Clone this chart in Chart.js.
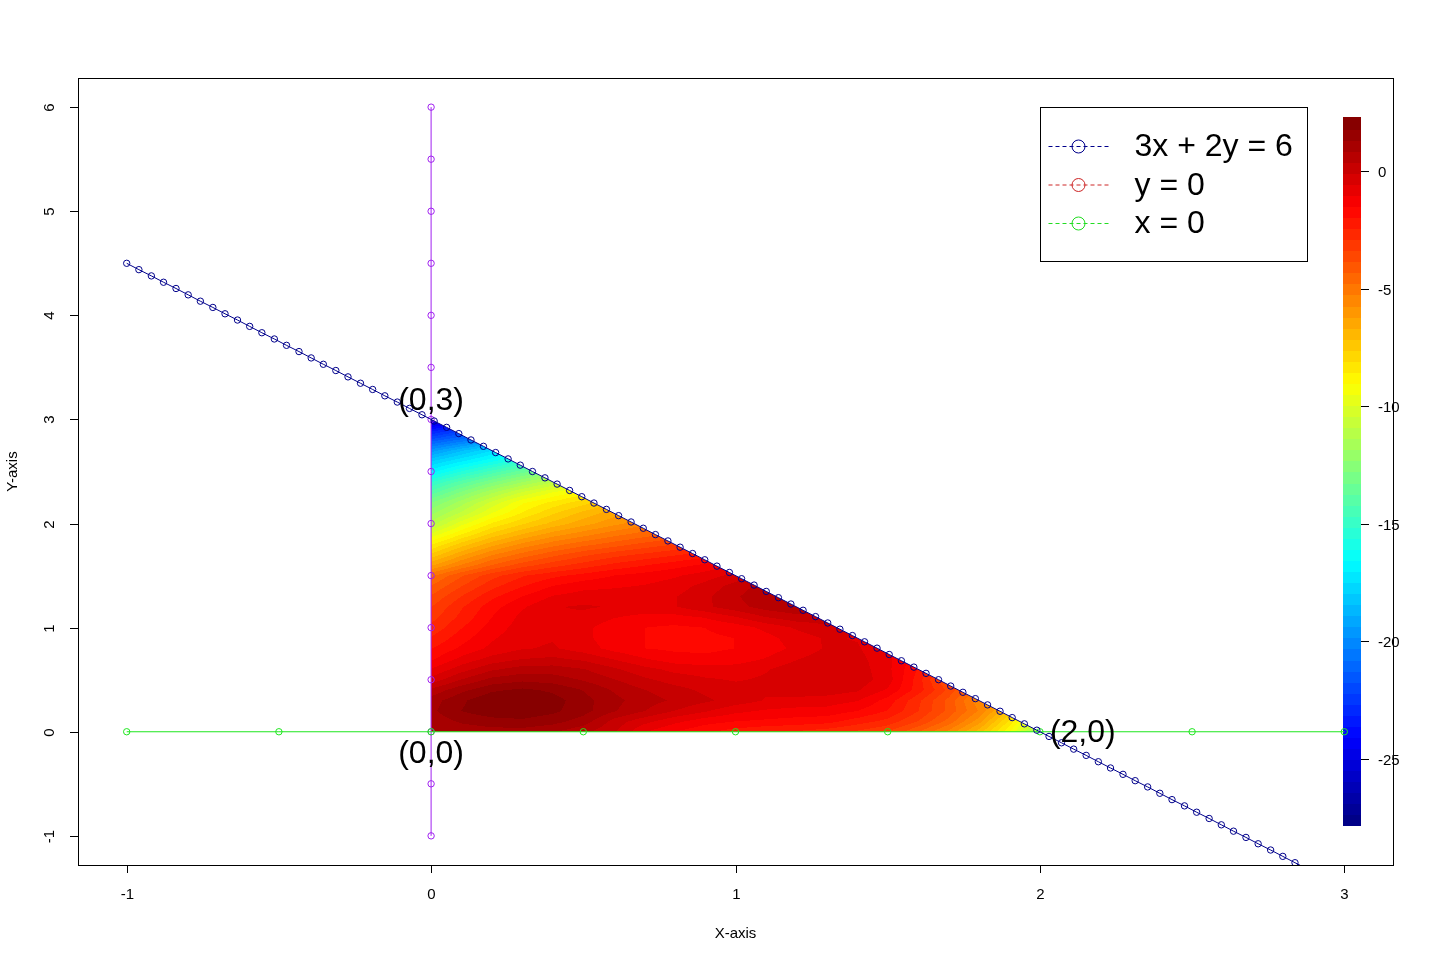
<!DOCTYPE html>
<html>
<head>
<meta charset="utf-8">
<script src="https://cdn.jsdelivr.net/npm/chart.js@4.4.1/dist/chart.umd.min.js"></script>
<style>
  html, body { margin: 0; padding: 0; background: #fff; }
  #wrap { width: 1434px; height: 964px; }
</style>
</head>
<body>
<div id="wrap"><canvas id="plot" width="1434" height="964"></canvas></div>
<script>
// ── DATA ─────────────────────────────────────────────────────
// 3x + 2y = 6, sampled points as plotted
const lineX = [-1.000,-0.960,-0.919,-0.879,-0.838,-0.798,-0.758,-0.717,-0.677,-0.636,
  -0.596,-0.556,-0.515,-0.475,-0.434,-0.394,-0.354,-0.313,-0.273,-0.232,
  -0.192,-0.152,-0.111,-0.071,-0.030,0.010,0.051,0.091,0.131,0.172,
  0.212,0.253,0.293,0.333,0.374,0.414,0.455,0.495,0.535,0.576,
  0.616,0.657,0.697,0.737,0.778,0.818,0.859,0.899,0.939,0.980,
  1.020,1.061,1.101,1.141,1.182,1.222,1.263,1.303,1.343,1.384,
  1.424,1.465,1.505,1.545,1.586,1.626,1.667,1.707,1.747,1.788,
  1.828,1.869,1.909,1.949,1.990,2.030,2.071,2.111,2.152,2.192,
  2.232,2.273,2.313,2.354,2.394,2.434,2.475,2.515,2.556,2.596,
  2.636,2.677,2.717,2.758,2.798,2.838,2.879,2.919,2.960,3.000];
const lineY = [4.500,4.439,4.379,4.318,4.258,4.197,4.136,4.076,4.015,3.955,
  3.894,3.833,3.773,3.712,3.652,3.591,3.530,3.470,3.409,3.348,
  3.288,3.227,3.167,3.106,3.045,2.985,2.924,2.864,2.803,2.742,
  2.682,2.621,2.561,2.500,2.439,2.379,2.318,2.258,2.197,2.136,
  2.076,2.015,1.955,1.894,1.833,1.773,1.712,1.652,1.591,1.530,
  1.470,1.409,1.348,1.288,1.227,1.167,1.106,1.045,0.985,0.924,
  0.864,0.803,0.742,0.682,0.621,0.561,0.500,0.439,0.379,0.318,
  0.258,0.197,0.136,0.076,0.015,-0.045,-0.106,-0.167,-0.227,-0.288,
  -0.348,-0.409,-0.470,-0.530,-0.591,-0.652,-0.712,-0.773,-0.833,-0.894,
  -0.955,-1.015,-1.076,-1.136,-1.197,-1.258,-1.318,-1.379,-1.439,-1.500];

// x = 0 (vertical) and y = 0 (horizontal)
const vertX = [0,0,0,0,0,0,0,0,0,0,0,0,0,0,0];
const vertY = [-1,-0.5,0,0.5,1,1.5,2,2.5,3,3.5,4,4.5,5,5.5,6];
const horzX = [-1,-0.5,0,0.5,1,1.5,2,2.5,3];
const horzY = [0,0,0,0,0,0,0,0,0];

// feasible region (triangle) and the value field
const triX = [0, 2, 0];
const triY = [0, 0, 3];
const zGridX = [0,0.1,0.2,0.3,0.4,0.5,0.6,0.7,0.8,0.9,1.0,1.1,1.2,1.3,1.4,1.5,1.6,1.7,1.8,1.9,2.0];
const zGridY = [0,0.1,0.2,0.3,0.4,0.5,0.6,0.7,0.8,0.9,1.0,1.1,1.2,1.3,1.4,1.5,1.6,1.7,1.8,1.9,2.0,
  2.1,2.2,2.3,2.4,2.5,2.6,2.7,2.8,2.9,3.0];
const zRows = [
  [0.8, 1.0, 1.1, 1.1, 0.9, 0.5, 0.0, -1.0, -1.5, -1.9, -2.2, -2.4, -2.5, -2.7, -3.0, -3.4, -4.3, -5.4, -6.9, -9.0, -11.8],
  [1.0, 1.4, 1.6, 1.7, 1.5, 1.1, 0.2, -0.4, -0.9, -1.3, -1.5, -1.6, -1.7, -1.8, -2.2, -2.6, -3.4, -4.5, -6.0, -8.2, -11.0],
  [1.2, 1.8, 2.1, 2.1, 1.9, 1.5, 0.9, 0.4, -0.1, -0.5, -0.9, -1.1, -1.2, -1.2, -1.5, -2.0, -2.9, -4.0, -5.3, -7.2, -10.0],
  [1.1, 1.7, 2.2, 2.2, 2.0, 1.5, 1.0, 0.6, 0.3, 0.0, -0.3, -0.6, -0.7, -0.8, -1.0, -1.7, -2.8, -4.0, -5.6, -7.0],
  [0.5, 1.2, 1.7, 1.9, 1.7, 1.3, 0.8, 0.4, 0.1, -0.2, -0.4, -0.5, -0.3, -0.3, -0.5, -1.1, -2.2, -3.5, -5.0, -6.5],
  [-0.4, 0.4, 1.0, 1.2, 1.1, 0.8, 0.4, 0.0, -0.3, -0.5, -0.6, -0.5, -0.3, -0.2, -0.3, -0.8, -2.2, -4.0, -5.2],
  [-1.0, -0.3, 0.3, 0.6, 0.6, 0.4, 0.0, -0.4, -0.7, -0.8, -0.8, -0.6, -0.3, -0.2, -0.3, -0.9, -2.0, -3.2],
  [-1.6, -0.9, -0.4, -0.1, 0.0, -0.2, -0.6, -1.0, -1.3, -1.4, -1.3, -1.0, -0.6, -0.3, -0.4, -0.9, -1.8, -2.9],
  [-2.0, -1.4, -0.9, -0.6, -0.5, -0.8, -1.2, -1.5, -1.6, -1.6, -1.5, -1.3, -0.9, -0.5, -0.5, -1.0, -1.9],
  [-2.4, -1.7, -1.1, -0.7, -0.6, -0.9, -1.3, -1.5, -1.6, -1.6, -1.5, -1.2, -0.8, -0.5, -0.6, -1.0],
  [-2.8, -2.0, -1.3, -0.8, -0.6, -0.9, -1.3, -1.5, -1.6, -1.5, -1.3, -0.9, -0.5, -0.2, -0.4, -0.9],
  [-3.1, -2.3, -1.5, -0.9, -0.6, -0.7, -1.0, -1.2, -1.2, -1.0, -0.6, -0.1, 0.2, 0.2, 0.0],
  [-3.4, -2.5, -1.7, -1.1, -0.6, -0.5, -0.6, -0.7, -0.6, -0.2, 0.2, 0.6, 0.8, 0.7],
  [-3.8, -2.9, -2.1, -1.5, -1.0, -0.8, -0.8, -0.8, -0.6, -0.2, 0.3, 0.8, 0.8, 0.6],
  [-4.3, -3.4, -2.6, -2.0, -1.5, -1.2, -1.1, -1.0, -0.8, -0.4, 0.1, 0.6, 0.7],
  [-4.9, -3.9, -3.1, -2.5, -2.1, -1.8, -1.5, -1.3, -1.1, -0.8, -0.4, 0.2],
  [-6.3, -5.2, -4.3, -3.6, -3.1, -2.7, -2.3, -2.0, -1.7, -1.4, -1.0, -0.5],
  [-7.5, -6.3, -5.3, -4.6, -4.0, -3.5, -3.1, -2.8, -2.5, -2.2, -1.8],
  [-8.6, -7.4, -6.4, -5.6, -5.0, -4.5, -4.1, -3.7, -3.4, -3.0],
  [-9.9, -8.6, -7.5, -6.7, -6.0, -5.5, -5.0, -4.6, -4.2, -3.8],
  [-11.2, -9.7, -8.5, -7.7, -7.0, -6.4, -5.9, -5.4, -5.0],
  [-12.0, -10.8, -9.5, -8.5, -7.7, -7.0, -6.4, -5.8],
  [-12.8, -11.6, -10.3, -9.1, -8.4, -7.8, -7.2, -6.6],
  [-14.0, -12.7, -11.5, -10.4, -9.5, -8.8, -8.1],
  [-15.2, -14.0, -12.9, -11.9, -11.0, -10.2],
  [-16.8, -15.6, -14.5, -13.5, -12.6, -11.8],
  [-18.0, -17.1, -16.2, -15.2, -14.3],
  [-19.6, -18.5, -17.5, -16.5],
  [-21.5, -20.6, -19.7, -18.8],
  [-23.5, -22.4, -21.3],
  [-25.8, -24.5]
];

// colour key
const cbRange = [-27.85, 2.26];
const cbTicks = [0, -5, -10, -15, -20, -25];
const nLevels = 64;

// axes
const xTicks = [-1, 0, 1, 2, 3];
const yTicks = [-1, 0, 1, 2, 3, 4, 5, 6];

// corner labels and legend
const cornerLabels = ['(0,3)', '(0,0)', '(2,0)'];
const cornerX = [0, 0, 2];
const cornerY = [3, 0, 0];
const cornerPos = ['above', 'below', 'right'];
const legendLabels = ['3x + 2y = 6', 'y = 0', 'x = 0'];
const legendColors = ['#00008B', '#CD2626', '#22DD22'];

// ── HELPERS ──────────────────────────────────────────────────
const FONT = '"Liberation Sans", Arial, sans-serif';
const JET = ['#00007F', '#0000FF', '#007FFF', '#00FFFF', '#7FFF7F', '#FFFF00', '#FF7F00', '#FF0000', '#7F0000']
  .map(h => [parseInt(h.slice(1, 3), 16), parseInt(h.slice(3, 5), 16), parseInt(h.slice(5, 7), 16)]);

function jet(t) {
  t = Math.max(0, Math.min(1, t)) * (JET.length - 1);
  const k = Math.min(JET.length - 2, Math.floor(t));
  const f = t - k;
  return JET[k].map((c, i) => Math.round(c + (JET[k + 1][i] - c) * f));
}

// colour of the level a value falls in
function levelColor(v) {
  const [lo, hi] = cbRange;
  let k = Math.floor((v - lo) / (hi - lo) * nLevels);
  k = Math.max(0, Math.min(nLevels - 1, k));
  return jet((k + 0.5) / nLevels);
}

function zAt(x, y) {
  const dx = zGridX[1] - zGridX[0], dy = zGridY[1] - zGridY[0];
  let i = Math.floor((x - zGridX[0]) / dx), j = Math.floor((y - zGridY[0]) / dy);
  i = Math.max(0, Math.min(zGridX.length - 2, i));
  j = Math.max(0, Math.min(zGridY.length - 2, j));
  const tx = Math.max(0, Math.min(1, (x - zGridX[i]) / dx));
  const ty = Math.max(0, Math.min(1, (y - zGridY[j]) / dy));
  const c = [[i, j, (1 - tx) * (1 - ty)], [i + 1, j, tx * (1 - ty)], [i, j + 1, (1 - tx) * ty], [i + 1, j + 1, tx * ty]];
  let s = 0, w = 0, s2 = 0, n = 0;
  for (const [a, b, wt] of c) {
    const v = zRows[b] ? zRows[b][a] : undefined;
    if (v === undefined || v === null) continue;
    s += v * wt; w += wt; s2 += v; n++;
  }
  if (w > 1e-6) return s / w;
  return n ? s2 / n : null;
}

const pts = (xs, ys) => xs.map((x, i) => ({ x, y: ys[i] }));

// ── PLUGINS ──────────────────────────────────────────────────
const fieldPlugin = {
  id: 'field',
  beforeDatasetsDraw(chart) {
    const { ctx, scales: { x, y, cb } } = chart;
    const px = triX.map(v => x.getPixelForValue(v));
    const py = triY.map(v => y.getPixelForValue(v));
    const x0 = Math.floor(Math.min(...px)), x1 = Math.ceil(Math.max(...px));
    const y0 = Math.floor(Math.min(...py)), y1 = Math.ceil(Math.max(...py));
    const w = x1 - x0 + 1, h = y1 - y0 + 1;

    const off = document.createElement('canvas');
    off.width = w; off.height = h;
    const octx = off.getContext('2d');
    const img = octx.createImageData(w, h);
    for (let r = 0; r < h; r++) {
      const yv = y.getValueForPixel(y0 + r + 0.5);
      for (let c = 0; c < w; c++) {
        const xv = x.getValueForPixel(x0 + c + 0.5);
        const z = zAt(xv, yv);
        if (z === null) continue;
        const col = levelColor(z);
        const o = (r * w + c) * 4;
        img.data[o] = col[0]; img.data[o + 1] = col[1]; img.data[o + 2] = col[2]; img.data[o + 3] = 255;
      }
    }
    octx.putImageData(img, 0, 0);

    ctx.save();
    ctx.beginPath();
    px.forEach((p, i) => (i ? ctx.lineTo(p, py[i]) : ctx.moveTo(p, py[i])));
    ctx.closePath();
    ctx.clip();
    ctx.drawImage(off, x0, y0);
    ctx.restore();

    // colour key
    const bl = Math.round(x.getPixelForValue(3.0)) - 1;
    const bw = 18;
    const [lo, hi] = cbRange;
    const step = (hi - lo) / nLevels;
    for (let k = 0; k < nLevels; k++) {
      const a = cb.getPixelForValue(lo + k * step);
      const b = cb.getPixelForValue(lo + (k + 1) * step);
      const col = jet((k + 0.5) / nLevels);
      ctx.fillStyle = `rgb(${col[0]},${col[1]},${col[2]})`;
      ctx.fillRect(bl, Math.floor(b), bw, Math.ceil(a) - Math.floor(b));
    }
    ctx.strokeStyle = '#000';
    ctx.lineWidth = 1;
    ctx.fillStyle = '#000';
    ctx.font = `15px ${FONT}`;
    ctx.textAlign = 'left';
    ctx.textBaseline = 'middle';
    cbTicks.forEach(v => {
      const p = Math.round(cb.getPixelForValue(v)) + 0.5;
      ctx.beginPath();
      ctx.moveTo(bl + bw, p); ctx.lineTo(bl + bw + 8, p);
      ctx.stroke();
      ctx.fillText(String(v), bl + bw + 17, p + 1);
    });
  },
  afterDraw(chart) {
    const { ctx, chartArea: a, scales: { x, y } } = chart;
    ctx.save();
    ctx.strokeStyle = '#000';
    ctx.fillStyle = '#000';
    ctx.lineWidth = 1;
    ctx.strokeRect(Math.round(a.left) + 0.5, Math.round(a.top) + 0.5, Math.round(a.width), Math.round(a.height));

    // x axis
    ctx.font = `15px ${FONT}`;
    ctx.textAlign = 'center';
    ctx.textBaseline = 'middle';
    xTicks.forEach(v => {
      const p = Math.round(x.getPixelForValue(v)) + 0.5;
      ctx.beginPath();
      ctx.moveTo(p, a.bottom); ctx.lineTo(p, a.bottom + 8);
      ctx.stroke();
      ctx.fillText(String(v), p, a.bottom + 30);
    });
    // y axis, labels turned as in the original
    yTicks.forEach(v => {
      const p = Math.round(y.getPixelForValue(v)) + 0.5;
      ctx.beginPath();
      ctx.moveTo(a.left, p); ctx.lineTo(a.left - 8, p);
      ctx.stroke();
      ctx.save();
      ctx.translate(a.left - 28, p);
      ctx.rotate(-Math.PI / 2);
      ctx.fillText(String(v), 0, 0);
      ctx.restore();
    });
    ctx.font = `15px ${FONT}`;
    ctx.fillText('X-axis', (a.left + a.right) / 2, a.bottom + 69);
    ctx.save();
    ctx.translate(13, (a.top + a.bottom) / 2);
    ctx.rotate(-Math.PI / 2);
    ctx.fillText('Y-axis', 0, 0);
    ctx.restore();

    // corner labels
    ctx.font = `32px ${FONT}`;
    cornerLabels.forEach((t, i) => {
      const px = x.getPixelForValue(cornerX[i]);
      const py = y.getPixelForValue(cornerY[i]);
      if (cornerPos[i] === 'above') { ctx.textAlign = 'center'; ctx.fillText(t, px, py - 18); }
      else if (cornerPos[i] === 'below') { ctx.textAlign = 'center'; ctx.fillText(t, px, py + 22); }
      else { ctx.textAlign = 'left'; ctx.fillText(t, px + 10, py + 1); }
    });

    // legend
    const lx = 1040.5, ly = 107.5, lw = 267, lh = 154;
    ctx.fillStyle = '#fff';
    ctx.fillRect(lx, ly, lw, lh);
    ctx.strokeStyle = '#000';
    ctx.strokeRect(lx, ly, lw, lh);
    ctx.textAlign = 'left';
    legendLabels.forEach((t, i) => {
      const ry = 146.5 + i * 38.5;
      ctx.strokeStyle = legendColors[i];
      ctx.setLineDash([4, 3]);
      ctx.beginPath();
      ctx.moveTo(lx + 8, ry); ctx.lineTo(lx + 68, ry);
      ctx.stroke();
      ctx.setLineDash([]);
      ctx.beginPath();
      ctx.arc(lx + 38, ry, 6.5, 0, Math.PI * 2);
      ctx.stroke();
      ctx.fillStyle = '#000';
      ctx.fillText(t, lx + 94, ry + 1);
    });
    ctx.restore();
  }
};

// ── CHART ────────────────────────────────────────────────────
const dotLine = (data, color) => ({
  data, showLine: true,
  borderColor: color, borderWidth: 1,
  pointRadius: 3.2, pointBorderWidth: 1, pointBorderColor: color,
  pointBackgroundColor: 'rgba(0,0,0,0)', pointHoverRadius: 3.2
});

new Chart(document.getElementById('plot'), {
  type: 'scatter',
  data: {
    datasets: [
      dotLine(pts(lineX, lineY), '#00008B'),
      dotLine(pts(horzX, horzY), '#1EE61E'),
      dotLine(pts(vertX, vertY), '#A020F0')
    ]
  },
  options: {
    responsive: false,
    animation: false,
    devicePixelRatio: 1,
    layout: { padding: { left: 78, top: 78, right: 41, bottom: 99 } },
    plugins: { legend: { display: false }, tooltip: { enabled: false } },
    events: [],
    scales: {
      x: { type: 'linear', min: -1.16, max: 3.16, display: false },
      y: { type: 'linear', min: -1.28, max: 6.28, display: false },
      // key scale, set so that the key spans its drawn height inside the plot
      cb: { type: 'linear', position: 'right', min: -29.509, max: 3.961, display: false }
    }
  },
  plugins: [fieldPlugin]
});
</script>
</body>
</html>
